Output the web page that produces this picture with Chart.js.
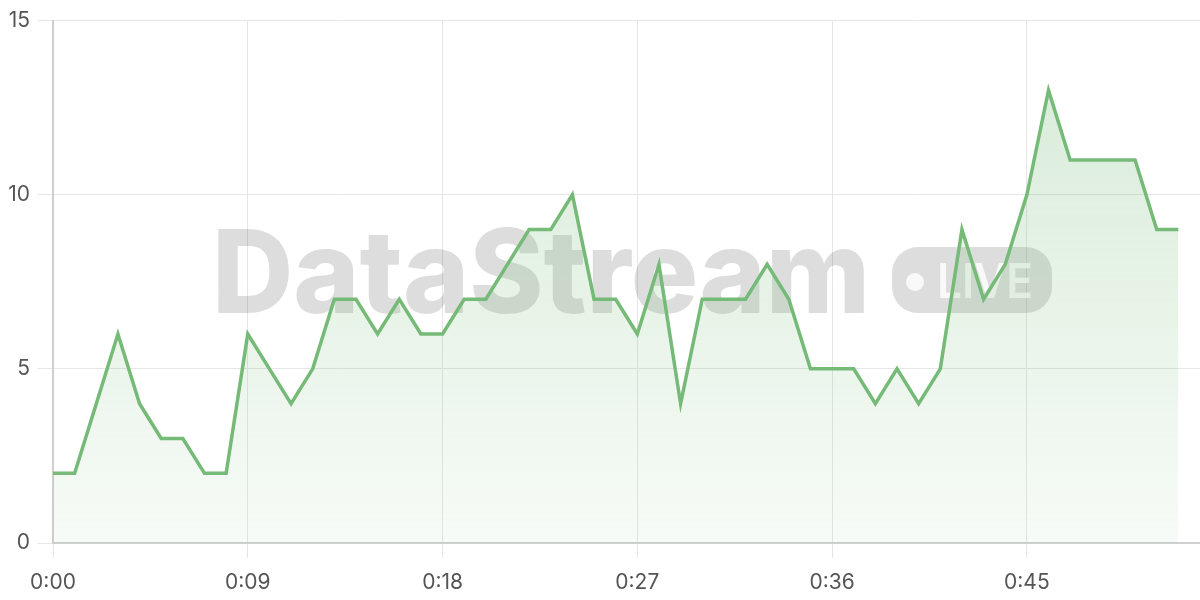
<!DOCTYPE html>
<html>
<head>
<meta charset="utf-8">
<script src="https://cdn.jsdelivr.net/npm/chart.js@4/dist/chart.umd.min.js"></script>
<style>
  html, body { margin: 0; padding: 0; background: #fff; }
  #wrap { width: 1200px; height: 600px; position: relative; }
</style>
</head>
<body>
<div id="wrap"><canvas id="myChart"></canvas></div>
<script>
// seconds since start, one sample per second
const seconds = [0,1,2,3,4,5,6,7,8,9,10,11,12,13,14,15,16,17,18,19,20,21,22,23,24,25,
  26,27,28,29,30,31,32,33,34,35,36,37,38,39,40,41,42,43,44,45,46,47,48,49,50,51,52];
const values = [2,2,4,6,4,3,3,2,2,6,5,4,5,7,7,6,7,6,6,7,7,8,9,9,10,7,
  7,6,8,4,7,7,7,8,7,5,5,5,4,5,4,5,9,7,8,10,13,11,11,11,11,9,9];
const xTickLabels = ['0:00', '0:09', '0:18', '0:27', '0:36', '0:45'];
const yTickLabels = ['0', '5', '10', '15'];

const lineColor = 'rgb(118,186,120)';
const tickFont = {family: 'Inter', size: 21};

// the grey "DataStream LIVE" watermark behind the line
const watermark = {
  id: 'watermark',
  beforeDatasetsDraw(chart) {
    const c = chart.ctx;
    c.save();
    c.fillStyle = 'rgba(0,0,0,0.135)';
    c.font = '800 116px Inter';
    c.textBaseline = 'alphabetic';
    const w = c.measureText('DataStream').width;
    c.translate(212, 313);
    c.scale(658 / w, 1);
    c.fillText('DataStream', 0, 0);
    c.restore();

    c.save();
    c.fillStyle = 'rgba(0,0,0,0.135)';
    c.beginPath();
    c.roundRect(892, 247, 160, 66, 26);
    c.fill();
    c.fillStyle = 'rgba(255,255,255,0.8)';
    c.beginPath();
    c.arc(915, 282, 9, 0, Math.PI * 2);
    c.fill();
    c.font = '600 48px Inter';
    const lw = c.measureText('LIVE').width;
    c.translate(937, 298);
    c.scale(96 / lw, 1);
    c.fillText('LIVE', 0, 0);
    c.restore();
  }
};

const ctx = document.getElementById('myChart').getContext('2d');
const myChart = new Chart(ctx, {
  type: 'line',
  data: {
    labels: seconds,
    datasets: [{
      data: values,
      borderColor: lineColor,
      borderWidth: 3.5,
      pointRadius: 0,
      tension: 0,
      fill: 'origin',
      backgroundColor: function(context) {
        const area = context.chart.chartArea;
        if (!area) return 'rgba(118,186,120,0.15)';
        const g = context.chart.ctx.createLinearGradient(0, area.top, 0, area.bottom);
        g.addColorStop(0, 'rgba(118,186,120,0.30)');
        g.addColorStop(1, 'rgba(118,186,120,0.06)');
        return g;
      }
    }]
  },
  options: {
    responsive: true,
    maintainAspectRatio: false,
    animation: false,
    layout: {padding: {top: 20, right: 0, left: 0, bottom: 0}},
    plugins: {legend: {display: false}, tooltip: {enabled: false}},
    scales: {
      x: {
        type: 'linear',
        min: 0,
        max: 53,
        afterFit(scale) { scale.height = 57; },
        ticks: {
          stepSize: 9,
          includeBounds: false,
          maxRotation: 0,
          color: '#555',
          font: tickFont,
          padding: 12,
          callback: (v) => xTickLabels[v / 9]
        },
        grid: {color: '#e6e6e6', tickLength: 15},
        border: {color: '#cfcfcf', width: 2}
      },
      y: {
        min: 0,
        max: 15,
        afterFit(scale) { scale.width = 53; },
        ticks: {
          stepSize: 5,
          color: '#555',
          font: tickFont,
          padding: 8,
          callback: (v) => yTickLabels[v / 5]
        },
        grid: {color: '#e6e6e6', tickLength: 15},
        border: {color: '#cfcfcf', width: 2}
      }
    }
  },
  plugins: [watermark]
});
</script>
</body>
</html>
